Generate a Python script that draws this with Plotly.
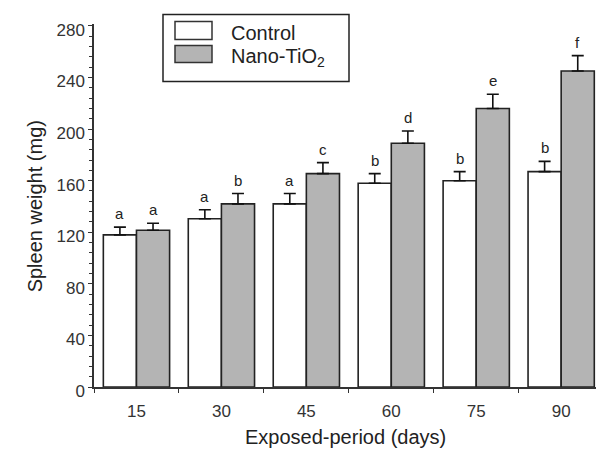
import plotly.graph_objects as go

# Spleen weight by exposure period
days = ["15", "30", "45", "60", "75", "90"]
control = [118, 130.5, 142, 158, 160, 167]
control_err = [6, 7, 8, 7.5, 7, 8]
nano = [121.5, 142, 165.5, 189, 216, 245]
nano_err = [5.5, 8, 8.5, 9.5, 11, 12]
control_letters = ["a", "a", "a", "b", "b", "b"]
nano_letters = ["a", "b", "c", "d", "e", "f"]

W, H = 596, 460
L, R, T, B = 94, 0, 23.6, 73.3
plot_w = W - L - R
plot_h = H - T - B

outline = "#222222"
gray_fill = "#b4b4b4"
font_family = "Liberation Sans, Arial, sans-serif"


def px(x):
    return (x - L) / plot_w


def py(y):
    return (H - B - y) / plot_h


fig = go.Figure()
for name, vals, errs, fill in [
    ("Control", control, control_err, "white"),
    ("Nano-TiO<sub>2</sub>", nano, nano_err, gray_fill),
]:
    fig.add_trace(go.Bar(
        x=days, y=vals, name=name,
        marker=dict(color=fill, line=dict(color=outline, width=1.6)),
        error_y=dict(type="data", array=errs, arrayminus=[0] * len(errs),
                     symmetric=False, color="#111111", thickness=1.6, width=6),
    ))

# significance letters above the error bars (x given as category index)
annotations = []
bar_half = 0.195
for vals, errs, letters, offset in [
    (control, control_err, control_letters, -bar_half),
    (nano, nano_err, nano_letters, bar_half),
]:
    for i, (v, e, t) in enumerate(zip(vals, errs, letters)):
        annotations.append(dict(
            x=i + offset, y=v + e, xref="x", yref="y", text=t, showarrow=False,
            yshift=3, yanchor="bottom",
            font=dict(size=15, color="#222222", family=font_family)))

# axis titles
annotations.append(dict(
    x=px(345), y=py(450), xref="paper", yref="paper",
    text="Exposed-period (days)", showarrow=False,
    font=dict(size=20, color="#222222", family=font_family)))
annotations.append(dict(
    x=px(22), y=py(206), xref="paper", yref="paper",
    text="Spleen weight (mg)", showarrow=False, textangle=-90,
    font=dict(size=20, color="#222222", family=font_family)))

# legend box
shapes = [
    dict(type="rect", xref="paper", yref="paper",
         x0=px(163), x1=px(349), y0=py(81), y1=py(14),
         line=dict(color="#222222", width=1.5), fillcolor="white"),
    dict(type="rect", xref="paper", yref="paper",
         x0=px(175), x1=px(212), y0=py(39), y1=py(21),
         line=dict(color="#333333", width=1.5), fillcolor="white"),
    dict(type="rect", xref="paper", yref="paper",
         x0=px(175), x1=px(212), y0=py(62), y1=py(45),
         line=dict(color="#333333", width=1.5), fillcolor=gray_fill),
]
for label, yc in [("Control", 33), ("Nano-TiO<sub>2</sub>", 57)]:
    annotations.append(dict(
        x=px(229), y=py(yc), xref="paper", yref="paper", text=label,
        showarrow=False, xanchor="left", yanchor="middle",
        font=dict(size=20, color="#222222", family=font_family)))

fig.update_layout(
    width=W, height=H,
    margin=dict(l=L, r=R, t=T, b=B, pad=0),
    paper_bgcolor="white", plot_bgcolor="white",
    barmode="group", bargap=0.22, bargroupgap=0,
    showlegend=False,
    font=dict(family=font_family, color="#222222"),
    annotations=annotations, shapes=shapes,
)
fig.update_xaxes(
    type="category", range=[-0.5, 5.41],
    showline=True, linecolor="#333333", linewidth=1.5,
    ticks="outside", tickson="boundaries", ticklen=4, tickcolor="#333333",
    tickfont=dict(size=17, color="#333333"), ticklabelstandoff=8,
    showgrid=False, zeroline=False,
)
fig.update_yaxes(
    range=[0, 281.5], tickvals=[0, 40, 80, 120, 160, 200, 240, 280],
    showline=True, linecolor="#333333", linewidth=1.5,
    ticks="outside", ticklen=4, tickcolor="#333333",
    minor=dict(dtick=8, ticks="outside", ticklen=3, tickcolor="#333333"),
    tickfont=dict(size=17, color="#333333"), ticklabelstandoff=0,
    ticklabelshift=4,
    showgrid=False, zeroline=False,
)

fig.write_html("out.html")
